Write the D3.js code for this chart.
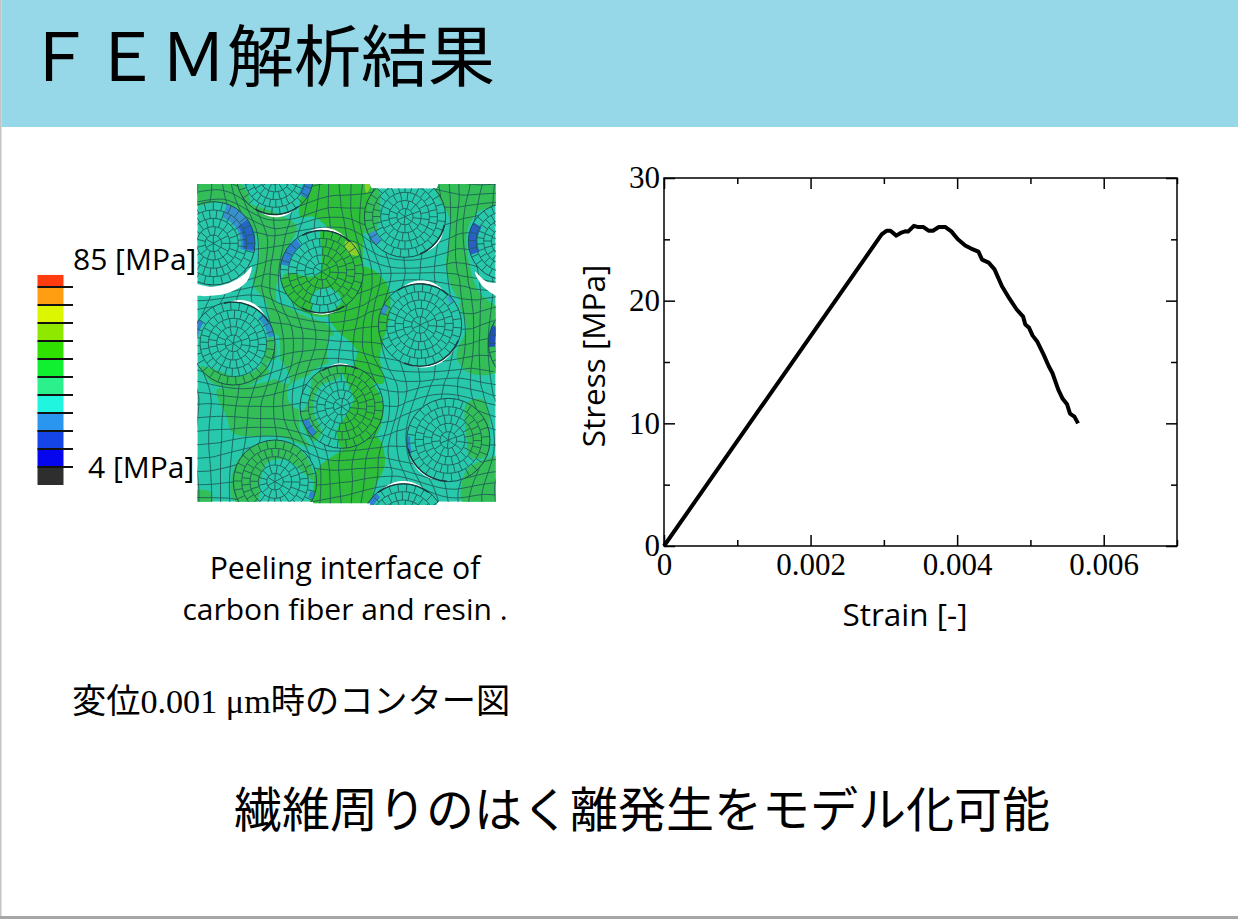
<!DOCTYPE html>
<html lang="ja">
<head>
<meta charset="utf-8">
<title>FEM解析結果</title>
<script src="https://cdn.jsdelivr.net/npm/d3@7"></script>
<style>
    html, body { margin: 0; padding: 0; background: #fff; overflow: hidden; }
    svg { display: block; }
    .tick text { font-family: "Liberation Serif", serif; font-size: 31px; fill: #000; }
</style>
</head>
<body>
<div id="chart"></div>
<script>
// Data: stress-strain curve
const strain = [0, 0.00297, 0.00304, 0.00309, 0.00317, 0.00324, 0.00329, 0.00333, 0.00341, 0.00347,
    0.00354, 0.00361, 0.00367, 0.00375, 0.00384, 0.00392, 0.00401, 0.00411, 0.00419, 0.00429,
    0.00434, 0.00443, 0.00451, 0.00461, 0.00471, 0.00481, 0.0049, 0.00493, 0.00498, 0.00503,
    0.00509, 0.00518, 0.00525, 0.0053, 0.00538, 0.00544, 0.0055, 0.00554, 0.0056, 0.00565];
const stress = [0, 25.4, 25.7, 25.7, 25.3, 25.55, 25.65, 25.63, 26.1, 26.0,
    26.0, 25.7, 25.7, 26.0, 26.0, 25.65, 25.0, 24.5, 24.25, 24.0,
    23.35, 23.1, 22.55, 21.2, 20.2, 19.3, 18.7, 18.05, 17.8, 17.15,
    16.7, 15.6, 14.65, 14.1, 12.75, 12.0, 11.55, 10.8, 10.55, 10.0];

const x_major = [0, 0.002, 0.004, 0.006];
const x_minor = [0.001, 0.003, 0.005, 0.007];
const y_major = [0, 10, 20, 30];
const y_minor = [5, 15, 25];

// Data: colour bar, top cell is cut short
const bar_colors = ['#2e2e2e', '#0505ee', '#1545e6', '#2a96f0', '#20f5e0', '#2cf08c',
    '#10f030', '#30e000', '#8fe800', '#dcf500', '#ff9e10', '#ff3c10'];
const bar_ticks = d3.range(1, 12);

// Data: contour picture, in 3x crop units
const panel_outline = [[532, 42], [1048, 42], [1055, 55], [1250, 55], [1256, 42], [1427, 42], [1427, 340], [1437, 342],
    [1427, 372], [1427, 995], [1255, 995], [1250, 1005], [1050, 1005], [1050, 1000], [880, 1000], [880, 995], [532, 995]];

// cx, cy, r, rotation
const fibers = [
    [765, 20, 115, 5], [580, 220, 125, 0], [905, 305, 125, 3], [1155, 140, 122, 7],
    [1460, 215, 115, 2], [640, 520, 125, 9], [1200, 465, 125, 4], [1530, 520, 125, 0],
    [965, 710, 125, 6], [1285, 810, 125, 8], [765, 935, 125, 1], [1150, 1065, 125, 5]
];
const ring_fracs = [0.8, 0.6, 0.4, 0.2];

const green_patches = [
    [[520, 30], [650, 30], [690, 100], [640, 110], [600, 95], [520, 105]],
    [[610, 85], [700, 105], [780, 135], [830, 170], [790, 260], [770, 400], [830, 490], [760, 490], [740, 400], [700, 340], [720, 240], [690, 160]],
    [[760, 400], [860, 440], [930, 470], [950, 560], [880, 600], [850, 650], [840, 780], [870, 830], [780, 800], [640, 790], [620, 740], [590, 660], [640, 655], [720, 640], [770, 620], [780, 520]],
    [[540, 590], [590, 600], [650, 620], [720, 590], [750, 500], [768, 520], [760, 590], [700, 640], [640, 655], [580, 640]],
    [[965, 588], [890, 610], [845, 680], [845, 760], [880, 815], [905, 790], [880, 720], [900, 650], [960, 620]],
    [[640, 990], [635, 920], [670, 850], [760, 810], [830, 830], [870, 880], [880, 930], [800, 870], [740, 880], [720, 940], [710, 1000]],
    [[1255, 30], [1440, 30], [1440, 95], [1370, 130], [1340, 190], [1350, 290], [1380, 370], [1440, 420], [1330, 400], [1280, 300], [1290, 150], [1250, 70]],
    [[1320, 400], [1380, 380], [1440, 450], [1440, 600], [1350, 610], [1310, 560], [1340, 470]],
    [[1050, 55], [1075, 60], [1065, 190], [1035, 190], [1030, 110]],
    [[1340, 700], [1390, 690], [1410, 800], [1400, 860], [1350, 860], [1340, 800]],
    [[1330, 1000], [1340, 900], [1420, 860], [1440, 860], [1440, 1000]],
    [[520, 965], [570, 965], [575, 1000], [520, 1000]]
];
const strong_patches = [
    [[870, 30], [1050, 30], [1040, 130], [1030, 200], [1020, 300], [940, 190], [880, 140], [840, 140]],
    [[905, 180], [980, 210], [1030, 300], [1000, 400], [920, 440], [840, 420], [785, 340], [800, 310], [870, 320], [900, 310], [905, 250]],
    [[1030, 290], [1100, 340], [1110, 430], [1080, 560], [1090, 640], [1000, 610], [1010, 540], [950, 480], [930, 440], [1000, 400]],
    [[965, 590], [1040, 620], [1090, 710], [1060, 810], [980, 850], [950, 790], [975, 740], [1000, 690]],
    [[970, 840], [1070, 800], [1095, 880], [1060, 960], [1050, 1010], [870, 1010], [880, 960], [890, 900]]
];
const teal_patches = [
    [[880, 370], [930, 355], [965, 390], [930, 425], [880, 425]],
    [[740, 580], [780, 570], [810, 640], [770, 630]],
    [[805, 650], [870, 620], [850, 720], [810, 700]],
    [[930, 500], [970, 500], [1000, 570], [930, 580]]
];
const yellow_patches = [
    [[975, 215], [1005, 220], [1015, 255], [985, 250]],
    [[1035, 42], [1052, 42], [1040, 70]]
];

// fiber index, start deg, end deg, inner fraction, color
const blue_arcs = [
    [1, 19, 102, 0.66, '#3a8fd0'], [1, 55, 100, 0.72, '#2565c8'], [2, 280, 322, 0.8, '#2f7fd0'],
    [5, 45, 80, 0.85, '#2f8fc8'], [5, 280, 305, 0.87, '#3080d0'], [3, 225, 245, 0.82, '#3a90d0'],
    [4, 250, 300, 0.76, '#2a5fc8'], [7, 265, 295, 0.84, '#2050b8'], [8, 225, 250, 0.85, '#2f80d0'],
    [6, 285, 300, 0.87, '#3a90d0'], [6, 45, 55, 0.9, '#3a9fd0'], [9, 250, 275, 0.92, '#2f80d0'],
    [10, 105, 115, 0.88, '#2f80d0'], [11, 300, 320, 0.86, '#2f80d0'], [0, 90, 125, 0.76, '#2f80d0']
];
// fiber index, start deg, end deg, gap
const slits = [
    [0, 150, 203, 7], [2, -20, 35, 7], [2, 155, 200, 4], [5, -5, 50, 9], [3, 110, 150, 5],
    [6, -25, 35, 9], [6, 120, 195, 4], [8, -20, 15, 5], [11, -30, 30, 7], [9, 190, 250, 3]
];
const left_wedge = [[520, 345], [575, 350], [630, 338], [670, 315], [695, 290], [680, 335], [640, 362], [590, 376], [520, 372]];
const right_wedge = [[1365, 305], [1400, 335], [1440, 342], [1440, 380], [1395, 355], [1375, 330]];

// Page frame
const svg = d3.select('#chart')
    .append('svg')
    .attr('width', 1238)
    .attr('height', 919);

svg.append('rect').attr('width', 1238).attr('height', 919).attr('fill', '#fff');
svg.append('rect').attr('x', 0).attr('y', 0).attr('width', 1.5).attr('height', 919).attr('fill', '#c4c4c4');
svg.append('rect').attr('x', 0).attr('y', 916).attr('width', 1238).attr('height', 3).attr('fill', '#a6a6a6');
svg.append('rect').attr('x', 1.5).attr('y', 0).attr('width', 1236.5).attr('height', 127).attr('fill', '#96d8e8');

const cjk = '"Noto Sans CJK JP", sans-serif';
const latin = '"Open Sans", "Noto Sans CJK JP", sans-serif';

svg.append('text').attr('x', 26).attr('y', 81)
    .attr('font-family', cjk).attr('font-size', 67)
    .text('ＦＥＭ解析結果');
svg.append('text').attr('x', 642).attr('y', 827).attr('text-anchor', 'middle')
    .attr('font-family', cjk).attr('font-size', 48)
    .text('繊維周りのはく離発生をモデル化可能');
svg.append('text').attr('x', 72).attr('y', 713)
    .attr('font-family', '"Liberation Serif", "Noto Sans CJK JP", serif').attr('font-size', 34.2)
    .text('変位0.001 μm時のコンター図');
svg.append('text').attr('x', 345).attr('y', 579).attr('text-anchor', 'middle')
    .attr('font-family', latin).attr('font-size', 30.2)
    .text('Peeling interface of');
svg.append('text').attr('x', 345).attr('y', 620).attr('text-anchor', 'middle')
    .attr('font-family', latin).attr('font-size', 30)
    .text('carbon fiber and resin .');

// Colour bar
const bar_y = d3.scaleLinear().domain([0, 12]).range([485, 269]);
const bar = svg.append('g');

bar.selectAll('rect')
    .data(bar_colors)
    .enter()
    .append('rect')
    .attr('x', 37.5)
    .attr('width', 26)
    .attr('y', (d, i) => bar_y(Math.min(i + 1, 11.67)))
    .attr('height', (d, i) => bar_y(i) - bar_y(Math.min(i + 1, 11.67)))
    .attr('fill', d => d);

bar.selectAll('line')
    .data(bar_ticks)
    .enter()
    .append('line')
    .attr('x1', 37.5)
    .attr('x2', 73)
    .attr('y1', d => bar_y(d))
    .attr('y2', d => bar_y(d))
    .attr('stroke', '#111')
    .attr('stroke-width', 2);

svg.append('text').attr('x', 73).attr('y', 270)
    .attr('font-family', latin).attr('font-size', 30).text('85 [MPa]');
svg.append('text').attr('x', 88).attr('y', 478)
    .attr('font-family', latin).attr('font-size', 30).text('4 [MPa]');

// Contour picture
const px = d3.scaleLinear().domain([0, 1470]).range([20, 510]);
const py = d3.scaleLinear().domain([0, 1035]).range([170, 515]);
const pr = d3.scaleLinear().domain([0, 1470]).range([0, 490]);
const rad = d => d * Math.PI / 180;

const line_open = d3.line().x(d => px(d[0])).y(d => py(d[1]));
const line_poly = d3.line().x(d => px(d[0])).y(d => py(d[1])).curve(d3.curveLinearClosed);
const line_blob = d3.line().x(d => px(d[0])).y(d => py(d[1])).curve(d3.curveCatmullRomClosed);

const defs = svg.append('defs');
defs.append('clipPath').attr('id', 'panel-clip')
    .append('path').attr('d', line_poly(panel_outline));

const matrix_mask = defs.append('mask').attr('id', 'matrix-mask')
    .attr('maskUnits', 'userSpaceOnUse')
    .attr('x', 0).attr('y', 0).attr('width', 1238).attr('height', 919);
matrix_mask.append('rect').attr('width', 1238).attr('height', 919).attr('fill', '#fff');
matrix_mask.selectAll('circle')
    .data(fibers)
    .enter()
    .append('circle')
    .attr('cx', d => px(d[0]))
    .attr('cy', d => py(d[1]))
    .attr('r', d => pr(d[2]))
    .attr('fill', '#000');

const panel = svg.append('g').attr('clip-path', 'url(#panel-clip)');

panel.append('path').attr('d', line_poly(panel_outline)).attr('fill', '#28c8ac');

const draw_blobs = (list, color) => panel.append('g')
    .selectAll('path')
    .data(list)
    .enter()
    .append('path')
    .attr('d', line_blob)
    .attr('fill', color);

draw_blobs(green_patches, '#33be58');
draw_blobs(strong_patches, '#2fbe3a');
draw_blobs(teal_patches, '#28c8ac');
draw_blobs(yellow_patches, '#8ccf28');

const at_fiber = d => `translate(${px(fibers[d[0]][0])},${py(fibers[d[0]][1])})`;

panel.append('g')
    .selectAll('path')
    .data(blue_arcs)
    .enter()
    .append('path')
    .attr('transform', at_fiber)
    .attr('fill', d => d[4])
    .attr('d', d => d3.arc()({
        innerRadius: pr(fibers[d[0]][2] * d[3]),
        outerRadius: pr(fibers[d[0]][2]),
        startAngle: rad(d[1]),
        endAngle: rad(d[2])
    }));

// Matrix mesh: lattice pushed away from the fibers
const warp = ([x, y]) => {
    let wx = x + 5 * Math.sin(y / 47 + x / 90);
    let wy = y + 5 * Math.sin(x / 53 - y / 110);
    fibers.forEach(f => {
        const dx = x - f[0];
        const dy = y - f[1];
        const dist = Math.hypot(dx, dy) || 1;
        const reach = f[2] + 75;
        if (dist < reach) {
            const push = (reach - dist) * 0.3;
            wx += dx / dist * push;
            wy += dy / dist * push;
        }
    });
    return [wx, wy];
};

const grid_x = d3.range(532, 1440, 39);
const grid_y = d3.range(42, 1010, 39);
const sample_x = d3.range(520, 1445, 12);
const sample_y = d3.range(30, 1015, 12);

const matrix = panel.append('g')
    .attr('mask', 'url(#matrix-mask)')
    .attr('fill', 'none')
    .attr('stroke', '#1f5f58')
    .attr('stroke-width', 0.9);

matrix.selectAll('path.v')
    .data(grid_x)
    .enter()
    .append('path')
    .attr('class', 'v')
    .attr('d', x => line_open(sample_y.map(y => warp([x, y]))));

matrix.selectAll('path.h')
    .data(grid_y)
    .enter()
    .append('path')
    .attr('class', 'h')
    .attr('d', y => line_open(sample_x.map(x => warp([x, y]))));

// Fiber mesh: rings and spokes
const fiber_groups = panel.append('g')
    .selectAll('g')
    .data(fibers)
    .enter()
    .append('g')
    .attr('transform', d => `translate(${px(d[0])},${py(d[1])})`)
    .attr('fill', 'none')
    .attr('stroke', '#1f5f58')
    .attr('stroke-width', 0.9);

fiber_groups.append('circle').attr('r', d => pr(d[2])).attr('stroke', '#1a5052').attr('stroke-width', 1);

fiber_groups.selectAll('circle.ring')
    .data(d => ring_fracs.map(k => d[2] * k))
    .enter()
    .append('circle')
    .attr('class', 'ring')
    .attr('r', d => pr(d));

// spoke count per ring band, each band turned a little so the cells do not line up
const spoke_bands = [[28, 1, 0.8, 0], [28, 0.8, 0.6, 6], [20, 0.6, 0.4, 0], [13, 0.4, 0.2, 7], [6, 0.2, 0, 0]];
fiber_groups.each(function (f) {
    const spokes = spoke_bands.flatMap(([n, k0, k1, turn]) => d3.range(n).map(i => {
        const a = rad(f[3] + turn) + i / n * 2 * Math.PI;
        return [d3.pointRadial(a, pr(f[2] * k0)), d3.pointRadial(a, pr(f[2] * k1))];
    }));
    d3.select(this).selectAll('path')
        .data(spokes)
        .enter()
        .append('path')
        .attr('d', d3.line());
});

// Peeled gaps
const slit_shape = d3.areaRadial()
    .angle(d => d.a)
    .innerRadius(d => d.r0)
    .outerRadius(d => d.r1);

const gaps = panel.append('g');
gaps.selectAll('path.slit')
    .data(slits)
    .enter()
    .append('path')
    .attr('class', 'slit')
    .attr('transform', at_fiber)
    .attr('fill', '#fff')
    .attr('d', d => slit_shape(d3.range(25).map(i => {
        const t = i / 24;
        const r = fibers[d[0]][2];
        return { a: rad(d[1] + (d[2] - d[1]) * t), r0: pr(r), r1: pr(r + d[3] * Math.sin(Math.PI * t)) };
    })));

gaps.selectAll('path.edge')
    .data(slits)
    .enter()
    .append('path')
    .attr('class', 'edge')
    .attr('transform', at_fiber)
    .attr('fill', '#17383c')
    .attr('d', d => d3.arc()({
        innerRadius: pr(fibers[d[0]][2]) - 1.2,
        outerRadius: pr(fibers[d[0]][2]) + 0.2,
        startAngle: rad(d[1] - 8),
        endAngle: rad(d[2] + 8)
    }));

svg.append('g')
    .selectAll('path')
    .data([left_wedge, right_wedge])
    .enter()
    .append('path')
    .attr('d', line_blob)
    .attr('fill', '#fff');

// Stress-strain chart
const chart = { left: 664, right: 1177, top: 178, bottom: 546 };

const x_scale = d3.scaleLinear().domain([0, 0.007]).range([chart.left, chart.right]);
const y_scale = d3.scaleLinear().domain([0, 30]).range([chart.bottom, chart.top]);

const g = svg.append('g');

g.append('rect')
    .attr('x', chart.left)
    .attr('y', chart.top)
    .attr('width', chart.right - chart.left)
    .attr('height', chart.bottom - chart.top)
    .attr('fill', 'none')
    .attr('stroke', '#000')
    .attr('stroke-width', 1.5);

const x_fmt = d => d === 0 ? '0' : d3.format('.3f')(d);
const tick_style = sel => {
    sel.select('.domain').remove();
    sel.selectAll('line').attr('stroke', '#000').attr('stroke-width', 1.5);
};

// inward ticks on all four sides
g.append('g').attr('transform', `translate(0,${chart.bottom})`)
    .call(d3.axisBottom(x_scale).tickValues(x_major).tickFormat(x_fmt).tickSizeInner(-11).tickPadding(7))
    .call(tick_style);
g.append('g').attr('transform', `translate(0,${chart.bottom})`)
    .call(d3.axisBottom(x_scale).tickValues(x_minor).tickFormat('').tickSizeInner(-6))
    .call(tick_style);
g.append('g').attr('transform', `translate(0,${chart.top})`)
    .call(d3.axisTop(x_scale).tickValues(x_major).tickFormat('').tickSizeInner(-11))
    .call(tick_style);
g.append('g').attr('transform', `translate(0,${chart.top})`)
    .call(d3.axisTop(x_scale).tickValues(x_minor).tickFormat('').tickSizeInner(-6))
    .call(tick_style);
g.append('g').attr('transform', `translate(${chart.left},0)`)
    .call(d3.axisLeft(y_scale).tickValues(y_major).tickFormat(d3.format('d')).tickSizeInner(-11).tickPadding(4))
    .call(tick_style);
g.append('g').attr('transform', `translate(${chart.left},0)`)
    .call(d3.axisLeft(y_scale).tickValues(y_minor).tickFormat('').tickSizeInner(-6))
    .call(tick_style);
g.append('g').attr('transform', `translate(${chart.right},0)`)
    .call(d3.axisRight(y_scale).tickValues(y_major).tickFormat('').tickSizeInner(-11))
    .call(tick_style);
g.append('g').attr('transform', `translate(${chart.right},0)`)
    .call(d3.axisRight(y_scale).tickValues(y_minor).tickFormat('').tickSizeInner(-6))
    .call(tick_style);

// Curve
const curve = d3.line()
    .x((d, i) => x_scale(strain[i]))
    .y(d => y_scale(d));

g.append('path')
    .datum(stress)
    .attr('d', curve)
    .attr('fill', 'none')
    .attr('stroke', '#000')
    .attr('stroke-width', 4)
    .attr('stroke-linejoin', 'round');

// Axis titles
g.append('text').attr('x', 905).attr('y', 626).attr('text-anchor', 'middle')
    .attr('font-family', latin).attr('font-size', 31.5).text('Strain [-]');
g.append('text').attr('transform', 'translate(605,356) rotate(-90)').attr('text-anchor', 'middle')
    .attr('font-family', latin).attr('font-size', 31.5).text('Stress [MPa]');
</script>
</body>
</html>
